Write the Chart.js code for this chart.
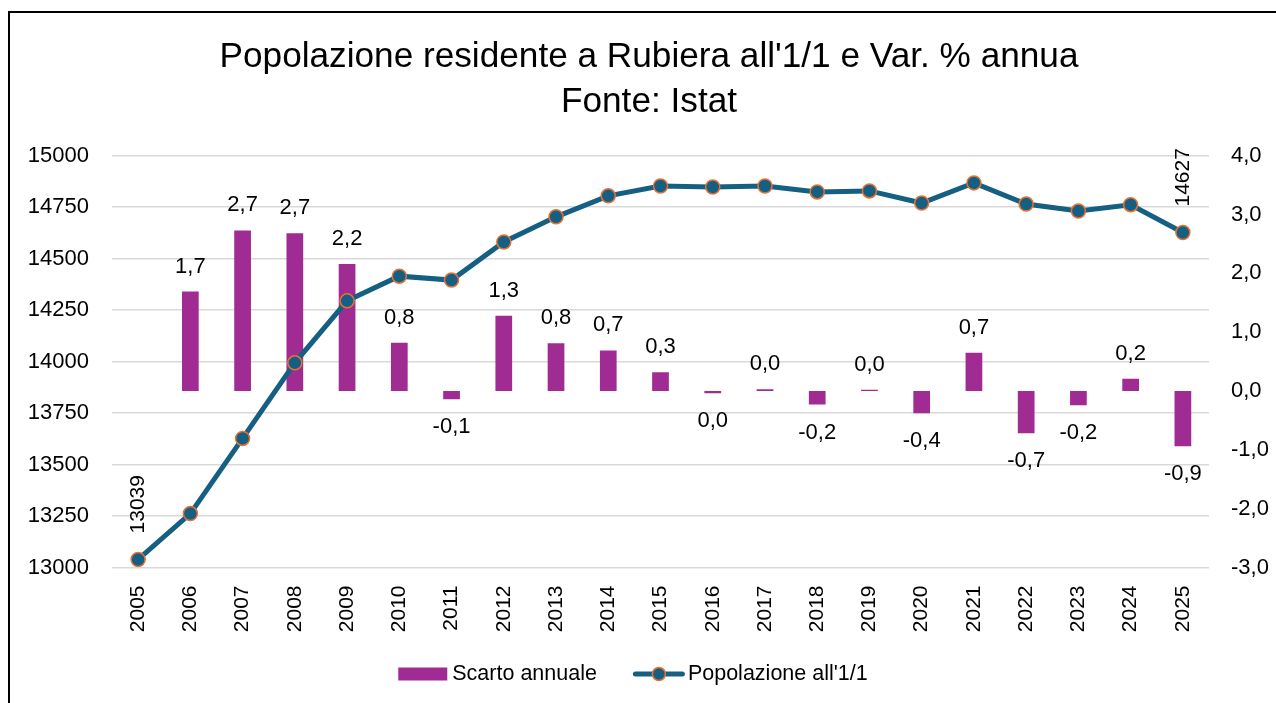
<!DOCTYPE html>
<html><head><meta charset="utf-8">
<script src="https://cdn.jsdelivr.net/npm/chart.js@4.4.1/dist/chart.umd.min.js"></script>
<style>
html,body{margin:0;padding:0;background:#fff;}
#wrap{position:relative;width:1276px;height:703px;overflow:hidden;background:#fff;}
#frame{position:absolute;left:8px;top:11px;right:-10px;bottom:-10px;border-left:2px solid #000;border-top:2px solid #000;pointer-events:none;}
canvas{position:absolute;left:0;top:0;}
</style></head><body>
<div id="wrap"><canvas id="c" width="1276" height="703"></canvas><div id="frame"></div></div>
<script>
const titleLines = ["Popolazione residente a Rubiera all'1/1 e Var. % annua", "Fonte: Istat"];
const years = ["2005","2006","2007","2008","2009","2010","2011","2012","2013","2014","2015","2016","2017","2018","2019","2020","2021","2022","2023","2024","2025"];
const popolazione = [13039,13262,13627,13994,14295,14415,14396,14581,14703,14805,14853,14848,14853,14824,14829,14770,14868,14765,14731,14762,14627];
const scarto = [null,1.69,2.73,2.68,2.16,0.82,-0.14,1.28,0.81,0.69,0.32,-0.04,0.03,-0.23,0.02,-0.38,0.65,-0.72,-0.24,0.21,-0.94];
const seriesNames = ["Scarto annuale", "Popolazione all'1/1"];

const FONT = '"Liberation Sans", Arial, sans-serif';
const BAR = '#A02B93', LINE = '#156082', MARK = '#E97132';
Chart.defaults.font.family = FONT;
Chart.defaults.color = '#000';

function fmt(v){ return (Math.round(v*10)/10).toFixed(1).replace('.', ','); }

const labelsPlugin = {
  id: 'customLabels',
  afterDraw(chart){
    const ctx = chart.ctx;
    ctx.save();
    ctx.fillStyle = '#000';
    ctx.font = '35.2px ' + FONT;
    ctx.textAlign = 'center'; ctx.textBaseline = 'alphabetic';
    ctx.fillText(titleLines[0], 649, 67);
    ctx.fillText(titleLines[1], 649, 112);

    // legend
    const ds = chart.data.datasets;
    ctx.font = '21.5px ' + FONT;
    ctx.textBaseline = 'middle'; ctx.textAlign = 'left';
    const w1 = ctx.measureText(ds[0].label).width;
    const w2 = ctx.measureText(ds[1].label).width;
    const total = 49 + 5 + w1 + 36 + 52 + 3 + w2;
    let x = 633 - total/2;
    const cy = 674;
    ctx.fillStyle = ds[0].backgroundColor;
    ctx.fillRect(x, cy - 6.5, 49, 13);
    x += 49 + 5;
    ctx.fillStyle = '#000';
    ctx.fillText(ds[0].label, x, cy);
    x += w1 + 36;
    ctx.strokeStyle = ds[1].borderColor; ctx.lineWidth = 5; ctx.lineCap = 'round';
    ctx.beginPath(); ctx.moveTo(x + 2.5, cy); ctx.lineTo(x + 49.5, cy); ctx.stroke();
    ctx.beginPath(); ctx.arc(x + 26, cy, 6.5, 0, Math.PI*2);
    ctx.fillStyle = ds[1].pointBackgroundColor; ctx.fill();
    ctx.lineWidth = 1.5; ctx.strokeStyle = ds[1].pointBorderColor; ctx.stroke();
    x += 52 + 3;
    ctx.fillStyle = '#000';
    ctx.fillText(ds[1].label, x, cy);
    ctx.restore();
  },
  afterDatasetsDraw(chart){
    const ctx = chart.ctx;
    ctx.save();
    ctx.fillStyle = '#000';
    ctx.font = '22px ' + FONT;
    ctx.textAlign = 'center'; ctx.textBaseline = 'middle';
    const bm = chart.getDatasetMeta(0);
    bm.data.forEach((el, i) => {
      const v = scarto[i];
      if (v === null) return;
      const y = v >= 0 ? el.y - 25 : el.y + 28;
      ctx.fillText(fmt(v), el.x, y);
    });
    const lm = chart.getDatasetMeta(1);
    [0, popolazione.length - 1].forEach(i => {
      const p = lm.data[i];
      ctx.save();
      ctx.translate(p.x, p.y - 26);
      ctx.rotate(-Math.PI/2);
      ctx.textAlign = 'left'; ctx.textBaseline = 'middle';
      ctx.font = '21px ' + FONT;
      ctx.fillText(String(popolazione[i]), 0, 0);
      ctx.restore();
    });
    ctx.restore();
  }
};

new Chart(document.getElementById('c'), {
  data: {
    labels: years,
    datasets: [
      { type: 'bar', label: seriesNames[0], data: scarto, yAxisID: 'y1', order: 1,
        backgroundColor: BAR, borderWidth: 0, barPercentage: 0.32, categoryPercentage: 1 },
      { type: 'line', label: seriesNames[1], data: popolazione, yAxisID: 'y', order: 0,
        borderColor: LINE, borderWidth: 5, tension: 0, fill: false,
        pointRadius: 7, pointBackgroundColor: LINE, pointBorderColor: MARK, pointBorderWidth: 1.5 }
    ]
  },
  options: {
    responsive: false,
    animation: false,
    devicePixelRatio: 1,
    layout: { padding: { top: 155.7, left: 0, right: 0, bottom: 67.5 } },
    plugins: {
      title: { display: false },
      tooltip: { enabled: false },
      legend: { display: false }
    },
    scales: {
      x: {
        offset: true,
        grid: { display: false, drawTicks: false },
        border: { display: false },
        ticks: { font: { size: 21 }, color: '#000', minRotation: 90, maxRotation: 90, padding: 18, autoSkip: false },
        afterFit(s){ s.height = 68; }
      },
      y: {
        position: 'left', min: 13000, max: 15000,
        grid: { color: '#d9d9d9', lineWidth: 1.5, drawTicks: false },
        border: { display: false },
        ticks: { stepSize: 250, font: { size: 22 }, color: '#000', padding: 23, callback: v => String(v) },
        afterFit(s){ s.width = 112; }
      },
      y1: {
        position: 'right', min: -3, max: 4,
        grid: { display: false, drawTicks: false },
        border: { display: false },
        ticks: { stepSize: 1, font: { size: 22 }, color: '#000', padding: 22, callback: v => fmt(v) },
        afterFit(s){ s.width = 67; }
      }
    }
  },
  plugins: [labelsPlugin]
});
</script>
</body></html>
